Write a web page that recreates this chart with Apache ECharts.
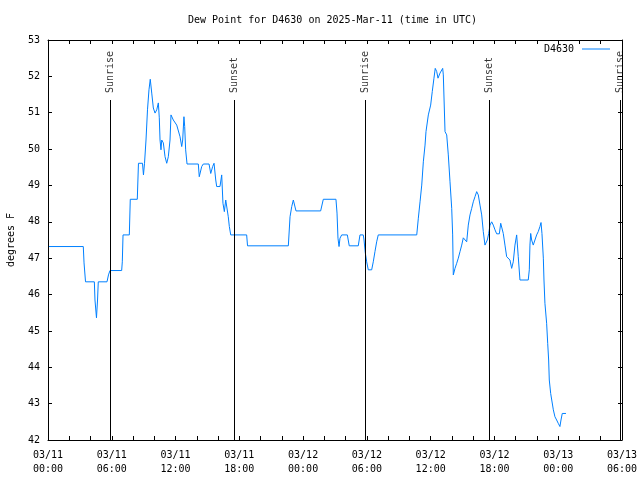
<!DOCTYPE html>
<html>
<head>
<meta charset="utf-8">
<script src="https://cdn.jsdelivr.net/npm/echarts@6/dist/echarts.min.js"></script>
<style>html,body{margin:0;padding:0;background:#fff}#c{width:640px;height:480px}</style>
</head>
<body>
<div id="c"></div>
<script>
// hours since 03/11 00:00 UTC
var hours = [0.09,3.32,3.39,3.53,4.36,4.42,4.56,4.66,4.73,5.55,5.69,5.83,6.93,6.99,7.06,7.65,7.74,8.40,8.51,8.89,8.98,9.08,9.22,9.36,9.50,9.62,9.76,9.91,10.07,10.23,10.38,10.47,10.54,10.63,10.70,10.85,11.01,11.17,11.32,11.48,11.57,11.79,12.11,12.42,12.58,12.67,12.79,12.86,12.95,13.08,14.14,14.23,14.46,14.61,15.15,15.31,15.49,15.62,15.78,15.87,16.18,16.34,16.46,16.59,16.72,16.87,16.96,17.06,17.19,18.69,18.77,22.61,22.77,22.93,23.08,23.17,23.33,25.65,25.90,27.09,27.19,27.28,27.38,27.47,27.63,28.16,28.34,29.19,29.35,29.66,29.73,29.85,29.98,30.13,30.45,30.60,30.76,30.92,31.07,34.69,34.84,35.00,35.16,35.31,35.47,35.56,35.78,36.00,36.15,36.31,36.43,36.57,36.69,36.88,37.13,37.19,37.35,37.51,37.66,37.82,37.98,38.07,38.13,38.29,38.45,38.60,38.76,38.92,39.07,39.23,39.39,39.54,39.70,39.86,40.01,40.17,40.33,40.48,40.64,40.80,40.95,41.11,41.20,41.33,41.46,41.58,41.74,41.89,42.05,42.21,42.46,42.59,42.68,42.83,42.99,43.15,43.30,43.46,43.62,43.77,43.93,44.09,44.14,44.24,44.40,45.18,45.28,45.34,45.41,45.50,45.65,45.81,45.97,46.12,46.28,46.38,46.47,46.60,46.66,46.75,46.91,47.01,47.10,47.16,47.29,47.39,47.54,47.69,47.85,48.00,48.16,48.26,48.38,48.73];
var dewPoint = [47.32,47.32,46.87,46.35,46.35,45.85,45.36,45.85,46.35,46.35,46.54,46.66,46.66,46.90,47.64,47.64,48.62,48.62,49.61,49.61,49.29,49.61,50.25,51.08,51.63,51.92,51.54,51.13,50.99,51.08,51.27,50.86,50.25,49.98,50.25,50.17,49.79,49.61,49.79,50.25,50.94,50.80,50.66,50.34,50.07,50.25,50.89,50.62,49.98,49.59,49.59,49.24,49.52,49.59,49.59,49.33,49.52,49.61,49.15,48.97,48.97,49.29,48.51,48.28,48.60,48.60,48.14,47.87,47.64,47.64,47.34,47.34,48.14,48.42,48.60,48.62,48.30,48.30,48.62,48.62,48.24,47.55,47.32,47.55,47.64,47.64,47.34,47.34,47.64,47.64,47.50,47.15,46.90,46.68,46.68,46.90,47.18,47.45,47.64,47.64,48.10,48.55,49.01,49.65,50.11,50.48,50.94,51.21,51.58,51.95,52.22,52.13,51.95,52.09,52.22,52.04,50.48,50.39,49.84,49.10,48.37,47.64,46.54,46.72,46.86,47.00,47.18,47.36,47.56,47.55,47.45,47.91,48.19,48.37,48.55,48.69,48.83,48.74,48.46,48.19,47.73,47.36,47.32,47.50,47.68,47.91,48.00,47.91,47.78,47.67,47.67,47.96,47.98,47.68,47.36,47.04,47.00,46.95,46.72,46.90,47.36,47.64,47.64,47.04,46.40,46.40,46.68,47.36,47.68,47.50,47.36,47.50,47.64,47.73,47.87,47.98,47.68,47.00,46.40,45.76,45.21,44.66,44.20,43.65,43.28,43.10,42.83,42.64,42.55,42.46,42.37,42.55,42.73,42.73];
var sunHours = [5.83, 17.50, 29.82, 41.49, 53.88];
var sunLabels = ['Sunrise', 'Sunset', 'Sunrise', 'Sunset', 'Sunrise'];
var sunLineTop = 51.35;
var dayLabels = ['03/11', '03/11', '03/11', '03/11', '03/12', '03/12', '03/12', '03/12', '03/13', '03/13'];
var timeLabels = ['00:00', '06:00', '12:00', '18:00', '00:00', '06:00', '12:00', '18:00', '00:00', '06:00'];
var yTicks = [42, 53, 1];
var xRange = [0, 54, 2];

var FONT = 'DejaVu Sans Mono';
var seriesData = hours.map(function (h, i) { return [h, dewPoint[i]]; });
var sunData = sunHours.map(function (h, i) { return [h, sunLineTop, sunLabels[i]]; });
var sunLines = sunHours.map(function (h) { return [{coord: [h, yTicks[0]]}, {coord: [h, sunLineTop]}]; });

function xLabel(v) {
  if (Math.abs(v % 6) > 1e-6) return '';
  var k = Math.round(v / 6);
  return dayLabels[k] + '\n' + timeLabels[k];
}
var tickStyle = {show: true, inside: true, length: 4, lineStyle: {color: '#000', width: 1}};
var lineStyleAx = {show: true, onZero: false, lineStyle: {color: '#000', width: 1}};

var chart = echarts.init(document.getElementById('c'), null, {renderer: 'canvas'});
chart.setOption({
  animation: false,
  backgroundColor: '#fff',
  title: {
    text: 'Dew Point for D4630 on 2025-Mar-11 (time in UTC)',
    left: 188, top: 14, padding: 0,
    textStyle: {fontFamily: FONT, fontSize: 10, fontWeight: 'normal', color: '#000', lineHeight: 12}
  },
  legend: {
    data: [{name: 'D4630', icon: 'rect'}], right: 30, top: 44, padding: 0, align: 'right',
    itemWidth: 28, itemHeight: 1, itemGap: 8,
    textStyle: {fontFamily: FONT, fontSize: 10, color: '#000', padding: [0, 3, 0, 0]}
  },
  grid: {left: 48, right: 18, top: 40, bottom: 40, containLabel: false, outerBoundsMode: 'none'},
  xAxis: [{
    type: 'value', min: xRange[0], max: xRange[1], interval: xRange[2], position: 'bottom',
    axisLine: lineStyleAx, axisTick: tickStyle, splitLine: {show: false},
    axisLabel: {formatter: xLabel, fontFamily: FONT, fontSize: 10, color: '#000', lineHeight: 14, margin: 8, showMinLabel: true, showMaxLabel: true}
  }, {
    type: 'value', min: xRange[0], max: xRange[1], interval: xRange[2], position: 'top',
    axisLine: lineStyleAx, axisTick: tickStyle, splitLine: {show: false}, axisLabel: {show: false}
  }],
  yAxis: [{
    type: 'value', min: yTicks[0], max: yTicks[1], interval: yTicks[2], position: 'left',
    name: 'degrees F', nameLocation: 'middle', nameGap: 32, nameRotate: 90,
    nameTextStyle: {fontFamily: FONT, fontSize: 10, color: '#000'},
    axisLine: lineStyleAx, axisTick: tickStyle, splitLine: {show: false},
    axisLabel: {fontFamily: FONT, fontSize: 10, color: '#000', margin: 8}
  }, {
    type: 'value', min: yTicks[0], max: yTicks[1], interval: yTicks[2], position: 'right',
    axisLine: lineStyleAx, axisTick: tickStyle, splitLine: {show: false}, axisLabel: {show: false}
  }],
  series: [{
    name: 'D4630', type: 'line', data: seriesData, symbol: 'none', showSymbol: false,
    lineStyle: {color: '#0080ff', width: 1}, itemStyle: {color: '#0080ff'},
    xAxisIndex: 0, yAxisIndex: 0, z: 3
  }, {
    name: 'sun', type: 'scatter', data: sunData, symbolSize: 0, silent: true,
    xAxisIndex: 0, yAxisIndex: 0, z: 2,
    label: {
      show: true, position: 'top', distance: 7, rotate: 90, align: 'left', verticalAlign: 'middle',
      formatter: function (p) { return p.data[2]; },
      fontFamily: FONT, fontSize: 10, color: '#000'
    },
    markLine: {
      silent: true, symbol: ['none', 'none'], label: {show: false},
      lineStyle: {color: '#000', width: 1, type: 'solid'},
      data: sunLines
    }
  }]
});
</script>
</body>
</html>
